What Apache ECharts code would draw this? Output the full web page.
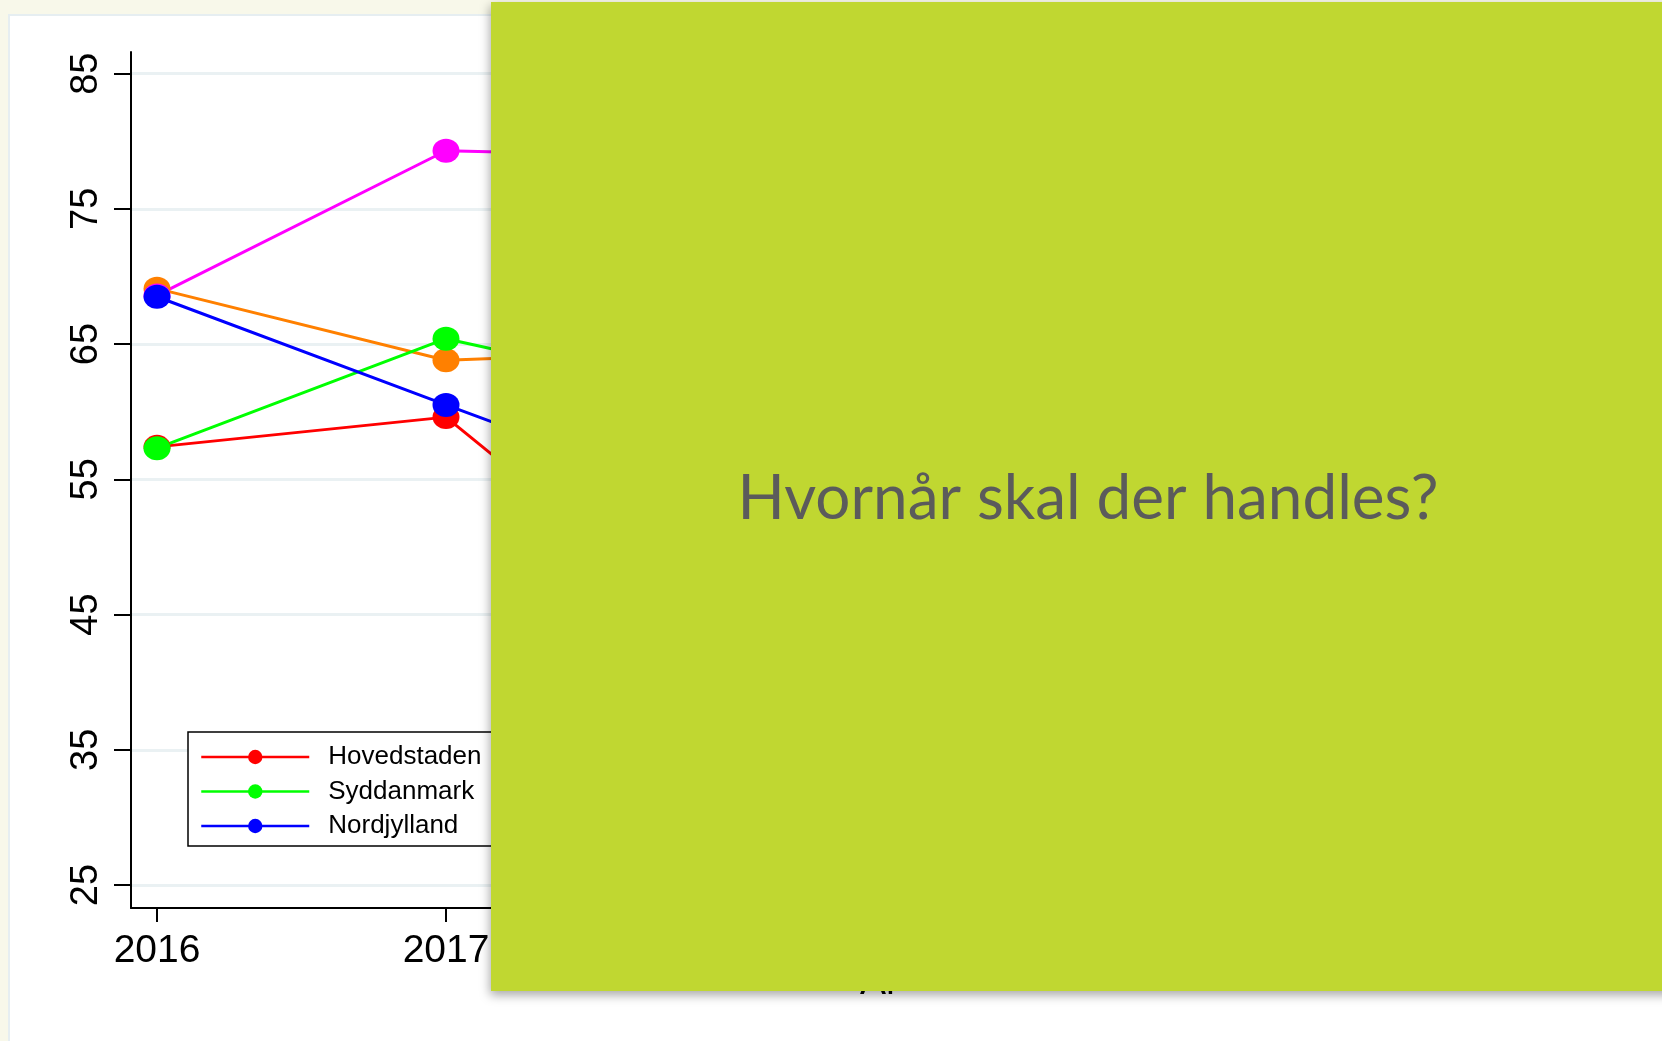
<!DOCTYPE html>
<html><head><meta charset="utf-8">
<script src="https://cdn.jsdelivr.net/npm/echarts@6/dist/echarts.min.js"></script>
<style>
html,body{margin:0;padding:0;width:1662px;height:1041px;overflow:hidden;background:#F8F8EA;}
#card{position:absolute;left:8px;top:14px;right:-4px;bottom:-4px;background:#fff;border:2px solid #E6EEF1;}
#chart{position:absolute;left:0;top:0;width:1662px;height:1041px;}
</style></head><body>
<div id="card"></div><div id="chart"></div>
<script>
const years = [2016, 2017, 2018, 2019, 2020, 2021];
const regions = ['Hovedstaden', 'Sjælland', 'Syddanmark', 'Midtjylland', 'Nordjylland'];
const hovedstaden = [57.4, 59.6, 42.2, 45.0, 48.0, 50.0];
const sjaelland   = [69.1, 63.8, 64.6, 62.0, 60.0, 61.0];
const syddanmark  = [57.3, 65.4, 60.7, 58.0, 62.0, 59.0];
const midtjylland = [68.6, 79.3, 78.8, 72.0, 70.0, 74.0];
const nordjylland = [68.5, 60.5, 52.6, 55.0, 57.0, 54.0];
const yTicks = [25, 35, 45, 55, 65, 75, 85];
const axisTitle = 'År';
const overlayTitle = 'Hvornår skal der handles?';

const seriesValues = [hovedstaden, sjaelland, syddanmark, midtjylland, nordjylland];
const colors = ['#FF0000', '#FF8000', '#00FF00', '#FF00FF', '#0000FF'];
const FONT = '"Liberation Sans", Arial, sans-serif';

const chart = echarts.init(document.getElementById('chart'), null, {renderer: 'canvas'});
chart.setOption({
  animation: false,
  backgroundColor: 'transparent',
  grid: {left: 131, right: 34, top: 52, bottom: 133},
  xAxis: {
    type: 'value', min: 2015.91, max: 2021.09,
    axisLine: {show: true, lineStyle: {color: '#000', width: 2}},
    axisTick: {show: true, customValues: years, length: 14, lineStyle: {color: '#000', width: 2}},
    axisLabel: {customValues: years, fontSize: 39, color: '#000', fontFamily: FONT, margin: 24,
      formatter: v => String(v)},
    splitLine: {show: false},
    name: axisTitle, nameLocation: 'middle', nameGap: 56, nameMoveOverlap: false,
    nameTextStyle: {fontSize: 39, color: '#000', fontFamily: FONT}
  },
  yAxis: {
    type: 'value', min: 23.3, max: 86.6,
    axisLine: {show: true, lineStyle: {color: '#000', width: 2}},
    axisTick: {show: true, customValues: yTicks, length: 17, lineStyle: {color: '#000', width: 2}},
    axisLabel: {customValues: yTicks, rotate: 90, fontSize: 38, color: '#000', fontFamily: FONT, margin: 25},
    splitLine: {show: true, lineStyle: {color: '#EAF1F3', width: 3}}
  },
  legend: {
    data: regions, left: 188, top: 732, width: 900, orient: 'horizontal',
    itemWidth: 108, itemHeight: 18, itemGap: 8.5,
    padding: [12, 12, 7, 12],
    borderColor: '#000', borderWidth: 1.5, backgroundColor: '#fff', borderRadius: 0,
    lineStyle: {width: 2.5},
    formatter: name => name.padEnd(22, '\u00a0'),
    textStyle: {fontSize: 26, color: '#000', fontFamily: FONT, padding: [0, 0, 0, 14]}
  },
  series: regions.map((name, i) => ({
    name: name, type: 'line',
    data: years.map((y, j) => [y, seriesValues[i][j]]),
    symbol: 'circle', symbolSize: [27, 24],
    itemStyle: {color: colors[i]},
    lineStyle: {color: colors[i], width: 3}
  })),
  graphic: [
    {type: 'rect', z: 100, shape: {x: 491, y: 2, width: 1200, height: 989},
      style: {fill: '#C0D731', shadowBlur: 10, shadowOffsetX: -1, shadowOffsetY: 4, shadowColor: 'rgba(0,0,0,0.35)'}},
    {type: 'text', z: 101, x: 1088, y: 530,
      style: {text: overlayTitle, fill: '#5B5B5B', fontSize: 62, fontFamily: 'Lato', fontWeight: 'normal',
        textAlign: 'center', textVerticalAlign: 'bottom', align: 'center', verticalAlign: 'bottom'}}
  ]
});
</script>
</body></html>
